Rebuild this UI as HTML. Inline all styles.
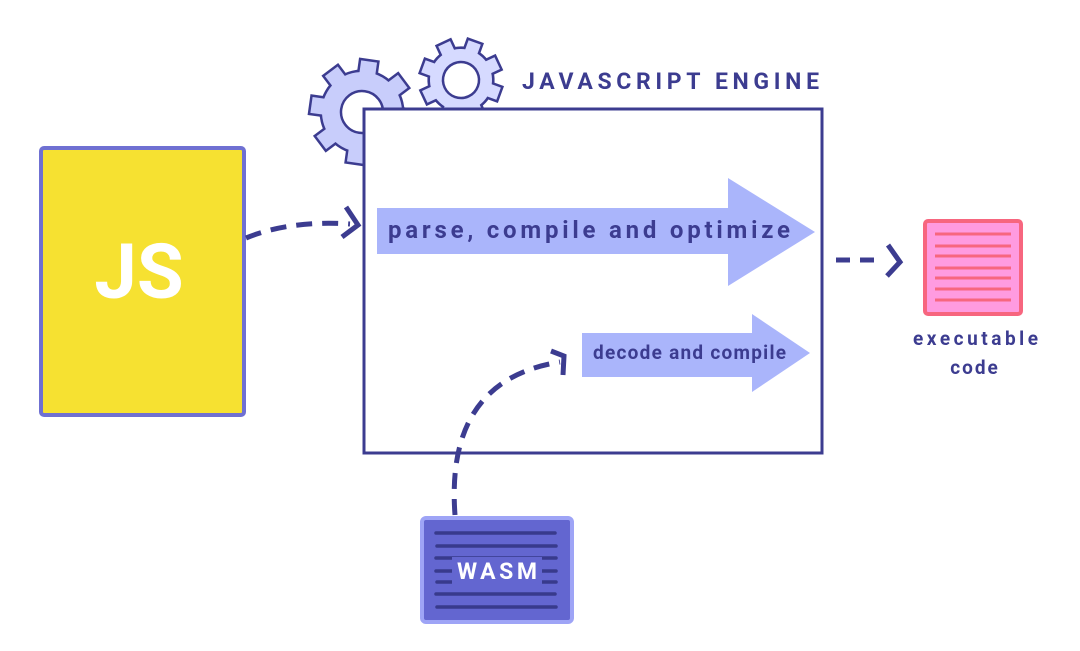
<!DOCTYPE html>
<html><head><style>body{margin:0;background:#fff}svg{display:block}</style></head><body>
<svg width="1080" height="651" viewBox="0 0 1080 651" xmlns="http://www.w3.org/2000/svg" font-family="Roboto, 'Liberation Sans', sans-serif">
<defs>
  <g id="g1">
    <circle r="40"/>
    <rect x="-8" y="-51" width="16" height="16"/>
    <rect x="-8" y="-51" width="16" height="16" transform="rotate(45)"/>
    <rect x="-8" y="-51" width="16" height="16" transform="rotate(90)"/>
    <rect x="-8" y="-51" width="16" height="16" transform="rotate(135)"/>
    <rect x="-8" y="-51" width="16" height="16" transform="rotate(180)"/>
    <rect x="-8" y="-51" width="16" height="16" transform="rotate(225)"/>
    <rect x="-8" y="-51" width="16" height="16" transform="rotate(270)"/>
    <rect x="-8" y="-51" width="16" height="16" transform="rotate(315)"/>
  </g>
  <g id="g2">
    <circle r="31"/>
    <rect x="-6.5" y="-40" width="13" height="14"/>
    <rect x="-6.5" y="-40" width="13" height="14" transform="rotate(45)"/>
    <rect x="-6.5" y="-40" width="13" height="14" transform="rotate(90)"/>
    <rect x="-6.5" y="-40" width="13" height="14" transform="rotate(135)"/>
    <rect x="-6.5" y="-40" width="13" height="14" transform="rotate(180)"/>
    <rect x="-6.5" y="-40" width="13" height="14" transform="rotate(225)"/>
    <rect x="-6.5" y="-40" width="13" height="14" transform="rotate(270)"/>
    <rect x="-6.5" y="-40" width="13" height="14" transform="rotate(315)"/>
  </g>
</defs>
<!-- gears -->
<g transform="translate(362,112) rotate(8)">
  <use href="#g1" fill="#3c3c90" stroke="#3c3c90" stroke-width="5"/>
  <use href="#g1" fill="#c8cdfb"/>
  <circle r="21" fill="#fff" stroke="#3c3c90" stroke-width="2.5"/>
</g>
<g transform="translate(461,80) rotate(20)">
  <use href="#g2" fill="#3c3c90" stroke="#3c3c90" stroke-width="5"/>
  <use href="#g2" fill="#d6daff"/>
  <circle r="18" fill="#fff" stroke="#3c3c90" stroke-width="2.5"/>
</g>
<text x="522" y="89" font-size="23" font-weight="bold" fill="#3c3c90" textLength="297" lengthAdjust="spacing">JAVASCRIPT ENGINE</text>
<rect x="364" y="109" width="458" height="344" fill="#fff" stroke="#3c3c90" stroke-width="3"/>
<!-- JS -->
<rect x="41" y="148" width="203" height="267" rx="3" fill="#f6e131" stroke="#6f70d2" stroke-width="4"/>
<text x="139" y="298" font-size="76" font-weight="bold" fill="#fff" text-anchor="middle">JS</text>
<!-- arrows -->
<polygon points="377,208 728,208 728,178 815,232 728,286 728,254 377,254" fill="#aab5fb"/>
<text x="388" y="238" font-size="24" font-weight="bold" fill="#3c3c90" textLength="402" lengthAdjust="spacing">parse, compile and optimize</text>
<polygon points="582,333 752,333 752,314 810,353 752,392 752,377 582,377" fill="#aab5fb"/>
<text x="593" y="359" font-size="19" font-weight="bold" fill="#3c3c90" textLength="193" lengthAdjust="spacing">decode and compile</text>
<!-- dashed connectors -->
<g fill="none" stroke="#3c3c90" stroke-width="5" stroke-linecap="butt">
  <path d="M246 238 Q290 220 350 224" stroke-dasharray="16 10"/>
  <path d="M346 207 L358 225 L342 237"/>
  <path d="M836 260 L880 260" stroke-dasharray="14 10"/>
  <path d="M888 245 L900 262 L887 276"/>
  <path d="M455 515 Q445 380 560 362" stroke-dasharray="16 10"/>
  <path d="M551 351 L564 356 L563 375"/>
</g>
<!-- exec code -->
<rect x="925" y="221" width="96" height="93" rx="3" fill="#ff9be0" stroke="#f7667f" stroke-width="4"/>
<g stroke="#f7667f" stroke-width="3">
  <line x1="935" y1="234" x2="1011" y2="234"/><line x1="935" y1="246" x2="1011" y2="246"/><line x1="935" y1="256" x2="1011" y2="256"/><line x1="935" y1="268" x2="1011" y2="268"/><line x1="935" y1="278" x2="1011" y2="278"/><line x1="935" y1="289" x2="1011" y2="289"/><line x1="935" y1="300" x2="1011" y2="300"/>
</g>
<text x="913" y="345" font-size="19" font-weight="bold" fill="#3c3c90" textLength="125" lengthAdjust="spacing">executable</text>
<text x="975" y="374" font-size="19" font-weight="bold" fill="#3c3c90" text-anchor="middle" letter-spacing="2">code</text>
<!-- WASM -->
<rect x="422" y="518" width="150" height="104" rx="4" fill="#6366d0" stroke="#9ea4f6" stroke-width="4"/>
<g stroke="#383a8c" stroke-width="3.5" stroke-linecap="round">
  <line x1="436" y1="533" x2="555" y2="533"/><line x1="437" y1="546" x2="556" y2="546"/><line x1="436" y1="558" x2="556" y2="558"/><line x1="436" y1="571" x2="556" y2="571"/><line x1="437" y1="582" x2="556" y2="582"/><line x1="436" y1="594" x2="555" y2="594"/><line x1="437" y1="607" x2="556" y2="607"/>
</g>
<rect x="452" y="557" width="90" height="28" fill="#6366d0"/>
<text x="457" y="579" font-size="23" font-weight="bold" fill="#fff" textLength="80" lengthAdjust="spacing">WASM</text>
</svg>
</body></html>
